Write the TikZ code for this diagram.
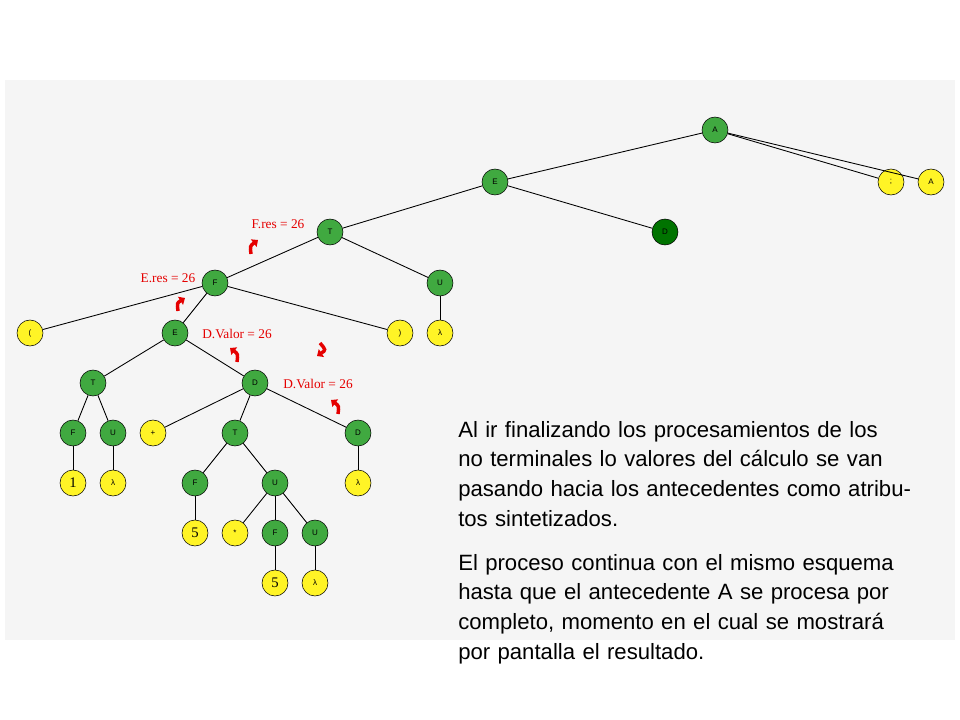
\documentclass[tikz,border=0pt]{standalone}
\usepackage{fontspec}
\setmainfont{Liberation Serif}
\newfontfamily\arial{Liberation Sans}
\usetikzlibrary{arrows.meta}
\begin{document}
\begin{tikzpicture}[x=0.75pt,y=-0.75pt,
 nt/.style={circle,draw=black,fill=green!55!black!75!white,minimum size=19.5pt,inner sep=0pt,font=\arial\fontsize{6}{7}\selectfont},
 ntd/.style={nt,fill=green!45!black},
 tm/.style={circle,draw=black,fill=yellow!85!white,minimum size=19.5pt,inner sep=0pt,font=\arial\fontsize{6}{7}\selectfont},
 tn/.style={tm,font=\fontsize{11}{12}\selectfont},
 lab/.style={text=red!90!black,font=\fontsize{10}{12}\selectfont},
 rarr/.style={red!90!black,line width=2.6pt,-{Triangle[length=4pt,width=7pt]}},
 edge/.style={draw=black,line width=0.65pt}]
\useasboundingbox (0,0) rectangle (960,720);
\fill[white] (0,0) rectangle (960,720);
\fill[black!4] (5,80) rectangle (955,640);
\node[nt] (A) at (715,130) {A};
\node[nt] (E) at (495,182) {E};
\node[tm] (sc) at (891,182) {;};
\node[tm] (A2) at (931,182) {A};
\node[nt] (T) at (330,232) {T};
\node[ntd] (D) at (665,232) {D};
\node[nt] (F) at (215,283) {F};
\node[nt] (U) at (440,283) {U};
\node[tm] (lp) at (30,333) {(};
\node[nt] (E2) at (175,333) {E};
\node[tm] (rp) at (400,333) {)};
\node[tm] (l1) at (440,333) {λ};
\node[nt] (T2) at (93,383) {T};
\node[nt] (D2) at (255,383) {D};
\node[nt] (F3) at (73,433) {F};
\node[nt] (U3) at (113,433) {U};
\node[tm] (pl) at (153,433) {+};
\node[nt] (T3) at (235,433) {T};
\node[nt] (D3) at (358,433) {D};
\node[tn] (n1) at (73,483) {1};
\node[tm] (l2) at (113,483) {λ};
\node[nt] (F4) at (195,483) {F};
\node[nt] (U4) at (275,483) {U};
\node[tm] (l3) at (358,483) {λ};
\node[tn] (n5) at (195,533) {5};
\node[tm] (st) at (235,533) {*};
\node[nt] (F5) at (275,533) {F};
\node[nt] (U5) at (315,533) {U};
\node[tn] (n5b) at (275,583) {5};
\node[tm] (l4) at (315,583) {λ};
\foreach \a/\b in {A/E,A/sc,A/A2,E/T,E/D,T/F,T/U,F/lp,F/E2,F/rp,U/l1,E2/T2,E2/D2,T2/F3,T2/U3,D2/pl,D2/T3,D2/D3,F3/n1,U3/l2,T3/F4,T3/U4,D3/l3,F4/n5,U4/st,U4/F5,U4/U5,F5/n5b,U5/l4}
  \draw[edge] (\a) -- (\b);
\node[lab] (L1) at (278,224) {F.res = 26};
\node[lab] (L2) at (168,278) {E.res = 26};
\node[lab] (L3) at (237,334) {D.Valor = 26};
\node[lab] (L4) at (318,384) {D.Valor = 26};
\draw[rarr] (251,254) .. controls (250,246) .. (258,240);
\draw[rarr] (178,311) .. controls (177,303) .. (185,298);
\draw[rarr] (237,362) .. controls (238,354) .. (230,348);
\draw[rarr] (320,343) .. controls (326,350) .. (317,356);
\draw[rarr] (338,414) .. controls (339,406) .. (331,400);
\node[anchor=north west,align=left,font=\arial\fontsize{16.6}{22.2}\selectfont,text width=345pt,inner sep=0pt] (txt) at (458,421) {Al ir finalizando los procesamientos de los no terminales lo valores del cálculo se van pasando hacia los antecedentes como atributos sintetizados.\\[11pt]El proceso continua con el mismo esquema hasta que el antecedente A se procesa por completo, momento en el cual se mostrará por pantalla el resultado.};
\end{tikzpicture}
\end{document}
